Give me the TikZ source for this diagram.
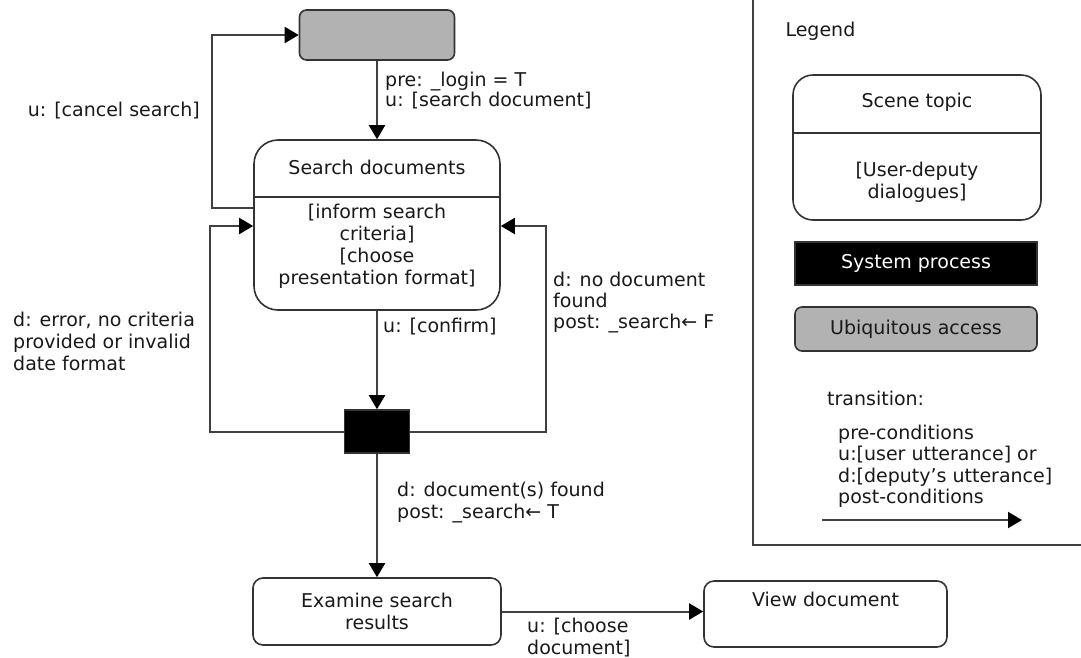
\documentclass[tikz,border=0pt]{standalone}
\usepackage{fontspec}
\setmainfont{DejaVu Sans}
\usetikzlibrary{arrows.meta,positioning,calc}

\begin{document}
\begin{tikzpicture}
    [x=1pt, y=-1pt,
    every node/.style={font=\fontsize{19}{22}\selectfont, text=black!90, align=center},
    scene/.style={draw=black!80, line width=1.6pt, rounded corners=24pt},
    plainbox/.style={draw=black!80, line width=1.6pt, rounded corners=10pt},
    ubiquitous/.style={draw=black!80, fill=black!30, line width=1.6pt, rounded corners=7pt},
    sysproc/.style={draw=black!80, fill=black, line width=1.6pt},
    cond/.style={align=left, inner sep=0pt},
    divider/.style={draw=black!80, line width=1.4pt},
    trans/.style={draw=black!75, line width=2pt, -{Triangle[length=14pt,width=16pt,color=black]}}
    ]
    \useasboundingbox (0,0) rectangle (1081,657);

    % states
    \node (ubi) [ubiquitous, minimum width=155, minimum height=50] at (377,35) {};
    \node (search) [scene, minimum width=246, minimum height=170] at (377,225) {};
    \node (searchtitle) at (377,167) {Search documents};
    \draw[divider] (search.west |- 0,197) -- (search.east |- 0,197);
    \node (searchbody) at (377,246.5) {{[}inform search\\criteria]\\{[}choose\\presentation format]};
    \node (junction) [sysproc, minimum width=65, minimum height=43] at (377,431.5) {};
    \node (examine) [plainbox, minimum width=248, minimum height=67] at (377,611.5) {Examine search\\results};
    \node (view) [plainbox, minimum width=243, minimum height=66] at (825.5,614) {View document\\\strut};

    % transitions
    \coordinate (cancelturn) at (212,208);
    \coordinate (errturn) at (210,226);
    \coordinate (nodocturn) at (546,226);
    \draw[trans] (ubi) -- (search);
    \draw[trans] (search.west |- cancelturn) -- (cancelturn) |- (ubi.west);
    \draw[trans] (junction.west) -| (errturn) -- (search.west |- errturn);
    \draw[trans] (junction.east) -| (nodocturn) -- (search.east |- nodocturn);
    \draw[trans] (search) -- (junction);
    \draw[trans] (junction) -- (examine);
    \draw[trans] (examine.east) -- (examine.east -| view.west);

    % transition labels
    \node (loginlbl) [cond, anchor=north west, font=\fontsize{19}{20}\selectfont] at (385,72) {pre: \_login = T\\u: {[}search document]};
    \node (cancellbl) [cond, anchor=north east] at (200,102) {u: {[}cancel search]};
    \node (errlbl) [cond, anchor=north west] at (13,312) {d: error, no criteria\\provided or invalid\\date format};
    \node (nodoclbl) [cond, anchor=north west, font=\fontsize{19}{21}\selectfont] at (553,272) {d: no document\\found\\post: \_search← F};
    \node (confirmlbl) [cond, anchor=north west] at (383,318) {u: {[}confirm]};
    \node (foundlbl) [cond, anchor=north west] at (397,482) {d: document(s) found\\post: \_search← T};
    \node (chooselbl) [cond, anchor=north west] at (527,618) {u: {[}choose\\document]};

    % legend
    \draw[draw=black!75, line width=2pt] (753,0) -- (753,545) -- (1081,545);
    \node (legendtitle) [anchor=west] at (782,31) {Legend};
    \node (legscene) [scene, rounded corners=20pt, minimum width=248, minimum height=145] at (917,147.5) {};
    \node (legscenetitle) at (917,102) {Scene topic};
    \draw[divider] (legscene.west |- 0,133) -- (legscene.east |- 0,133);
    \node (legscenebody) at (917,182.5) {{[}User-deputy\\dialogues]};
    \node (legsys) [sysproc, text=white, minimum width=242, minimum height=43] at (916,263.5) {System process};
    \node (legubi) [ubiquitous, minimum width=242, minimum height=44] at (916,329) {Ubiquitous access};
    \node (legtrans) [cond, anchor=west] at (827,398) {transition:};
    \node (legconds) [cond, anchor=north west, font=\fontsize{19}{21.3}\selectfont] at (838,425) {pre-conditions\\u:{[}user utterance] or\\d:{[}deputy’s utterance]\\post-conditions};
    \coordinate (legfrom) at (822,520);
    \coordinate (legto) at (1022,520);
    \draw[trans] (legfrom) -- (legto);
\end{tikzpicture}
\end{document}
